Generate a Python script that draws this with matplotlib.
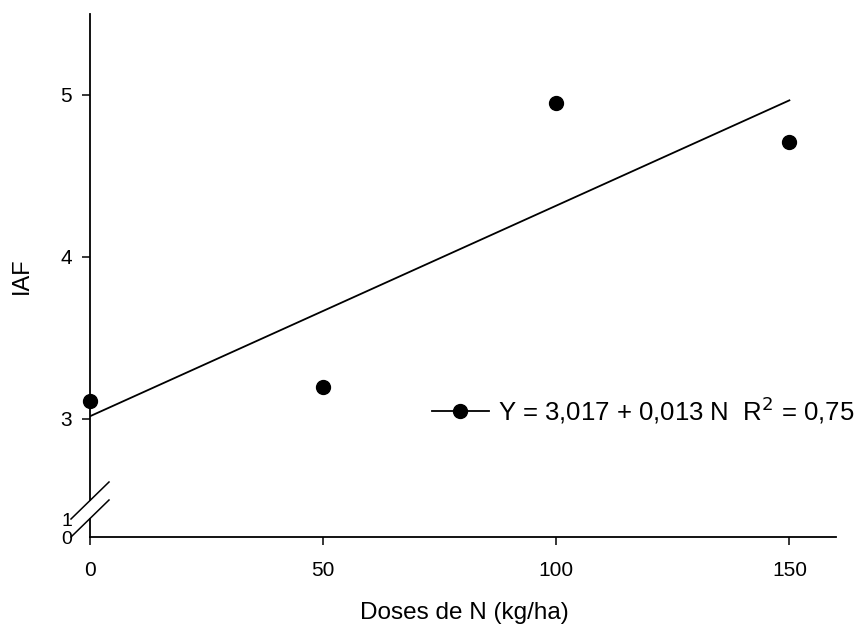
import numpy as np
import matplotlib
matplotlib.use("Agg")
import matplotlib.pyplot as plt
from matplotlib.lines import Line2D

plt.rcParams['font.family'] = ['Liberation Sans', 'DejaVu Sans']

doses = [0, 50, 100, 150]
iaf = [3.11, 3.20, 4.95, 4.71]
b0, b1 = 3.017, 0.013
xticks = [0, 50, 100, 150]
yticks_top = [3, 4, 5]
yticks_bot = [0, 1]
eq_label = "Y = 3,017 + 0,013 N  R$^2$ = 0,75"

W, H = 860, 626
fig = plt.figure(figsize=(W / 100, H / 100), dpi=100)

def fx(px):
    return px / W

def fy(py):
    return 1 - py / H

left, right = fx(90), fx(836)
ax = fig.add_axes([left, fy(500), right - left, fy(14) - fy(500)])
axb = fig.add_axes([left, fy(537), right - left, fy(519) - fy(537)])

xfit = np.array([doses[0], doses[-1]])
ax.plot(xfit, b0 + b1 * xfit, color='black', lw=1.3)
ax.plot(doses, iaf, 'o', color='black', ms=10, clip_on=False, zorder=5)

for a in (ax, axb):
    a.set_xlim(0, 160)
    a.spines['top'].set_visible(False)
    a.spines['right'].set_visible(False)
    a.spines['left'].set_linewidth(1.3)
    a.spines['bottom'].set_linewidth(1.3)

ax.set_ylim(2.5, 5.5)
ax.set_yticks(yticks_top)
ax.spines['bottom'].set_visible(False)
ax.tick_params(axis='x', bottom=False, labelbottom=False)
ax.tick_params(axis='y', direction='out', length=6, width=1.1, labelsize=15, pad=7)

axb.set_ylim(0, 18 / 17)
axb.set_yticks(yticks_bot)
axb.set_xticks(xticks)
axb.tick_params(axis='y', length=0, labelsize=14, pad=13)
axb.tick_params(axis='x', direction='out', length=6, width=1.1, labelsize=15, pad=11)

# axis break marks
for y0 in (519, 537):
    fig.add_artist(Line2D([fx(71), fx(109)], [fy(y0), fy(y0 - 37)],
                          transform=fig.transFigure, color='black', lw=1.1))

handle = Line2D([], [], color='black', lw=1.3, marker='o', ms=10)
fig.legend([handle], [eq_label], loc='center left',
           bbox_to_anchor=(fx(432), fy(410)), bbox_transform=fig.transFigure,
           frameon=False, borderpad=0, borderaxespad=0, handlelength=2.2,
           handletextpad=0.35, fontsize=18.5)

fig.text(fx(22), fy(276), 'IAF', rotation=90, ha='center', va='center', fontsize=17)
fig.text(fx(464), fy(613), 'Doses de N (kg/ha)', ha='center', va='center', fontsize=17.5)

fig.savefig('out.png', dpi=100)
